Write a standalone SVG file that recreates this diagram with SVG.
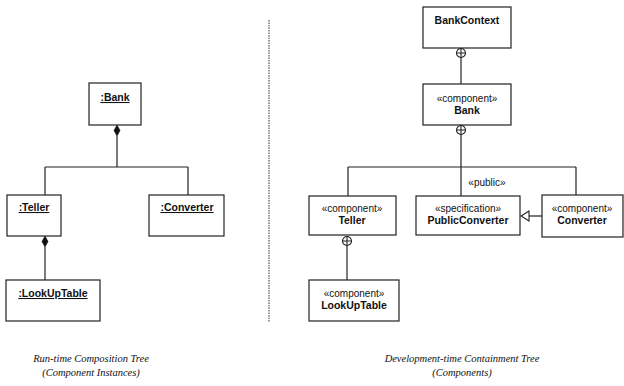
<svg xmlns="http://www.w3.org/2000/svg" width="624" height="386" viewBox="0 0 624 386">
  <style>
    .box { fill: #fff; stroke: #222; stroke-width: 1.2; }
    .line { fill: none; stroke: #222; stroke-width: 1.2; }
    .name { font-family: "Liberation Sans", Arial, sans-serif; font-weight: bold; font-size: 10.5px; fill: #111; text-anchor: middle; }
    .inst { text-decoration: underline; }
    .stereo { font-family: "Liberation Sans", Arial, sans-serif; font-size: 10px; fill: #111; text-anchor: middle; }
    .caption { font-family: "Liberation Serif", "Times New Roman", serif; font-style: italic; font-size: 10.5px; fill: #111; text-anchor: middle; }
  </style>
  <defs>
    <!-- filled composition diamond, centred on the origin -->
    <path id="diamond" d="M0,-5.5 L3,0 L0,5.5 L-3,0 Z" fill="#111" stroke="#111" stroke-width="0.6"/>
    <!-- nesting (containment) circle-plus -->
    <g id="nest">
      <circle cx="0" cy="0" r="4.5" fill="#fff" stroke="#222" stroke-width="1.1"/>
      <path d="M-4.5,0 H4.5 M0,-4.5 V4.5" stroke="#222" stroke-width="1.1"/>
    </g>
  </defs>

  <!-- connectors -->
  <g id="connectors">
    <!-- run-time composition tree -->
    <path class="line" d="M117,136 V167 M45,167 H188 M45,167 V195 M188,167 V195"/>
    <use href="#diamond" x="117" y="130.5"/>
    <path class="line" d="M45,247 V280"/>
    <use href="#diamond" x="45" y="241.5"/>

    <!-- divider -->
    <line x1="269" y1="20" x2="269" y2="322" stroke="#333" stroke-width="1" stroke-dasharray="1.5 1"/>

    <!-- development-time containment tree -->
    <path class="line" d="M461,57.5 V84"/>
    <use href="#nest" x="461" y="53"/>
    <path class="line" d="M461,134.5 V196 M348,167 H576 M348,167 V196 M576,167 V195"/>
    <use href="#nest" x="461" y="130"/>
    <path class="line" d="M347,245.5 V280"/>
    <use href="#nest" x="347" y="241"/>
    <path class="line" d="M529,216 H542"/>
    <path d="M521,216 L529,211 L529,221 Z" fill="#fff" stroke="#222" stroke-width="1.1"/>
    <text class="stereo" x="487" y="185.5">«public»</text>
  </g>

  <!-- run-time nodes -->
  <g id="inst-bank">
    <rect class="box" x="89" y="83" width="52" height="42"/>
    <text class="name inst" x="115" y="101">:Bank</text>
  </g>
  <g id="inst-teller">
    <rect class="box" x="7" y="195" width="54" height="41"/>
    <text class="name inst" x="34" y="211">:Teller</text>
  </g>
  <g id="inst-converter">
    <rect class="box" x="149" y="195" width="75" height="41"/>
    <text class="name inst" x="187" y="211">:Converter</text>
  </g>
  <g id="inst-lookuptable">
    <rect class="box" x="6" y="280" width="94" height="41"/>
    <text class="name inst" x="53" y="297">:LookUpTable</text>
  </g>

  <!-- development-time nodes -->
  <g id="bankcontext">
    <rect class="box" x="423" y="7" width="88" height="41"/>
    <text class="name" x="467" y="24">BankContext</text>
  </g>
  <g id="bank">
    <rect class="box" x="423" y="84" width="88" height="41"/>
    <text class="stereo" x="467" y="102">«component»</text>
    <text class="name" x="467" y="114">Bank</text>
  </g>
  <g id="teller">
    <rect class="box" x="309" y="196" width="87" height="39"/>
    <text class="stereo" x="352" y="212">«component»</text>
    <text class="name" x="352" y="224">Teller</text>
  </g>
  <g id="publicconverter">
    <rect class="box" x="416" y="196" width="104" height="39"/>
    <text class="stereo" x="468" y="212">«specification»</text>
    <text class="name" x="468" y="224">PublicConverter</text>
  </g>
  <g id="converter">
    <rect class="box" x="542" y="195" width="81" height="42"/>
    <text class="stereo" x="582" y="212">«component»</text>
    <text class="name" x="582" y="224">Converter</text>
  </g>
  <g id="lookuptable">
    <rect class="box" x="309" y="280" width="90" height="41"/>
    <text class="stereo" x="354" y="297">«component»</text>
    <text class="name" x="354" y="309">LookUpTable</text>
  </g>

  <!-- captions -->
  <g id="captions">
    <text class="caption" x="91" y="362">Run-time Composition Tree</text>
    <text class="caption" x="91" y="376">(Component Instances)</text>
    <text class="caption" x="462" y="362">Development-time Containment Tree</text>
    <text class="caption" x="462" y="376">(Components)</text>
  </g>
</svg>
